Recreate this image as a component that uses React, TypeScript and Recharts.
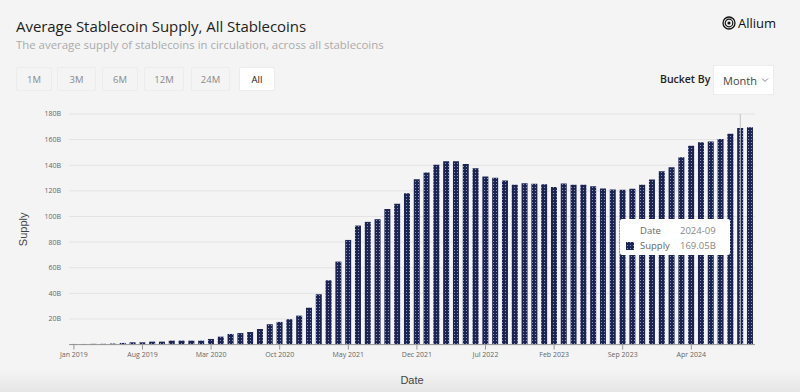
import {
  BarChart,
  Bar,
  XAxis,
  YAxis,
  CartesianGrid,
  Tooltip,
  ReferenceLine,
} from "recharts";

// monthly buckets, Jan 2019 .. Oct 2024
const months = [
  "2019-01", "2019-02", "2019-03", "2019-04", "2019-05", "2019-06",
  "2019-07", "2019-08", "2019-09", "2019-10", "2019-11", "2019-12",
  "2020-01", "2020-02", "2020-03", "2020-04", "2020-05", "2020-06",
  "2020-07", "2020-08", "2020-09", "2020-10", "2020-11", "2020-12",
  "2021-01", "2021-02", "2021-03", "2021-04", "2021-05", "2021-06",
  "2021-07", "2021-08", "2021-09", "2021-10", "2021-11", "2021-12",
  "2022-01", "2022-02", "2022-03", "2022-04", "2022-05", "2022-06",
  "2022-07", "2022-08", "2022-09", "2022-10", "2022-11", "2022-12",
  "2023-01", "2023-02", "2023-03", "2023-04", "2023-05", "2023-06",
  "2023-07", "2023-08", "2023-09", "2023-10", "2023-11", "2023-12",
  "2024-01", "2024-02", "2024-03", "2024-04", "2024-05", "2024-06",
  "2024-07", "2024-08", "2024-09", "2024-10",
];

// average supply, billions
const supply = [
  0.5, 0.5, 0.6, 0.6, 0.8, 1.3, 1.8, 1.8, 2.3, 2.3, 3.1, 3.1,
  3.1, 3.1, 4.4, 6.2, 8.3, 9.0, 9.8, 12.2, 15.9, 17.7, 19.8, 22.6,
  28.8, 39.3, 50.2, 64.8, 81.7, 92.9, 95.8, 97.9, 105.9, 110.0, 118.2, 129.1,
  134.3, 140.3, 143.2, 143.2, 140.9, 137.7, 131.2, 130.2, 128.1, 124.7, 126.0, 125.5,
  125.2, 123.1, 125.7, 124.7, 124.7, 123.7, 121.9, 121.0, 120.8, 121.6, 124.7, 128.8,
  135.4, 138.5, 146.3, 155.2, 158.0, 158.5, 160.4, 164.5, 169.05, 169.6,
];

const yTicks = [20, 40, 60, 80, 100, 120, 140, 160, 180];
const monthNames = ["Jan", "Feb", "Mar", "Apr", "May", "Jun", "Jul", "Aug", "Sep", "Oct", "Nov", "Dec"];
const ranges = ["1M", "3M", "6M", "12M", "24M", "All"];
const hoverMonth = "2024-09";

// range buttons: left edge and width
const btnLeft = [16, 57, 102, 144, 191, 239];
const btnWidth = [36, 39, 36, 40, 39, 36];

const NAVY = "#1c2452";
const UI_FONT = "'Open Sans', 'Noto Sans', sans-serif";
const AXIS_FONT = "'Liberation Sans', Arial, sans-serif";

const chartData = months.map((m, i) => ({ month: m, supply: supply[i] }));

const fmtMonth = (v: string) => `${monthNames[Number(v.slice(5)) - 1]} ${v.slice(0, 4)}`;

function HoverBox({ payload }: any) {
  const p = payload && payload[0];
  if (!p) return null;
  return (
    <div
      style={{
        background: "#fff",
        width: 110,
        height: 36,
        boxSizing: "border-box",
        padding: "4px 0 0 6px",
        fontFamily: UI_FONT,
        fontSize: 9.5,
        color: "#666",
        lineHeight: "15px",
        borderRadius: 2,
      }}
    >
      <div style={{ display: "flex" }}>
        <span style={{ width: 14 }} />
        <span style={{ width: 40 }}>Date</span>
        <span style={{ color: "#888" }}>{p.payload.month}</span>
      </div>
      <div style={{ display: "flex", alignItems: "center" }}>
        <svg width={14} height={10}>
          <rect x={0} y={1} width={8} height={8} fill="url(#dots)" />
        </svg>
        <span style={{ width: 40 }}>Supply</span>
        <span style={{ color: "#888" }}>{p.value.toFixed(2)}B</span>
      </div>
    </div>
  );
}

export default function App() {
  return (
    <div
      style={{
        position: "absolute",
        left: 0,
        top: 0,
        width: 800,
        height: 392,
        background: "#f4f4f4",
        overflow: "hidden",
      }}
    >
      {/* soft shade along the bottom edge */}
      <div
        style={{
          position: "absolute",
          left: 0,
          bottom: 0,
          width: 800,
          height: 22,
          background: "linear-gradient(#f4f4f400, #e6e6e6)",
        }}
      />
      <BarChart
        width={800}
        height={392}
        data={chartData}
        margin={{ top: 114, right: 45, bottom: 17.4, left: 10 }}
        barCategoryGap="18%"
      >
        <defs>
          <pattern id="dots" width={3} height={3} patternUnits="userSpaceOnUse">
            <rect width={3} height={3} fill={NAVY} />
            <rect x={1} y={1} width={1} height={1} fill="#8a96c8" />
          </pattern>
        </defs>
        <CartesianGrid vertical={false} stroke="#e3e3e3" />
        <XAxis
          dataKey="month"
          interval={6}
          tickFormatter={fmtMonth}
          stroke="#999"
          tickSize={5}
          tick={{ fontSize: 7, fill: "#666", fontFamily: UI_FONT }}
          label={{
            value: "Date",
            position: "bottom",
            offset: 2,
            style: { fontSize: 11, fill: "#444", fontFamily: AXIS_FONT },
          }}
        />
        <YAxis
          width={59}
          domain={[0, 180]}
          ticks={yTicks}
          tickFormatter={(v) => `${v}B`}
          axisLine={false}
          tickLine={false}
          tick={{ fontSize: 7, fill: "#666", fontFamily: UI_FONT }}
          label={{
            value: "Supply",
            angle: -90,
            position: "insideLeft",
            offset: 13,
            style: { fontSize: 11, fill: "#444", fontFamily: AXIS_FONT, textAnchor: "middle" },
          }}
        />
        <ReferenceLine x={hoverMonth} stroke="#c4c4c4" />
        <Bar dataKey="supply" fill="url(#dots)" isAnimationActive={false} />
        <Tooltip
          active
          defaultIndex={68}
          cursor={false}
          isAnimationActive={false}
          position={{ x: 620, y: 219 }}
          content={<HoverBox />}
          wrapperStyle={{ outline: "none" }}
        />
      </BarChart>

      {/* header */}
      <div
        style={{
          position: "absolute",
          left: 16,
          top: 16,
          fontFamily: UI_FONT,
          fontSize: 15,
          fontWeight: 500,
          color: "#1e1e1e",
          whiteSpace: "nowrap",
          letterSpacing: -0.05,
        }}
      >
        Average Stablecoin Supply, All Stablecoins
      </div>
      <div
        style={{
          position: "absolute",
          left: 16,
          top: 37,
          fontFamily: UI_FONT,
          fontSize: 11.4,
          color: "#ababab",
          whiteSpace: "nowrap",
        }}
      >
        The average supply of stablecoins in circulation, across all stablecoins
      </div>

      {ranges.map((r, i) => {
        const on = r === "All";
        return (
          <div
            key={r}
            style={{
              position: "absolute",
              left: btnLeft[i],
              top: 67,
              width: btnWidth[i],
              height: 24,
              boxSizing: "border-box",
              border: "1px solid #ececec",
              background: on ? "#fff" : "#f4f4f4",
              fontFamily: UI_FONT,
              fontSize: 9.5,
              color: on ? "#111" : "#8a8a8a",
              fontWeight: on ? 500 : 400,
              display: "flex",
              alignItems: "center",
              justifyContent: "center",
              borderRadius: 2,
            }}
          >
            {r}
          </div>
        );
      })}

      {/* brand */}
      <div
        style={{
          position: "absolute",
          left: 722,
          top: 14,
          display: "flex",
          alignItems: "center",
          gap: 2,
          fontFamily: UI_FONT,
          fontSize: 13,
          fontWeight: 500,
          color: "#111",
        }}
      >
        <svg width={14} height={14} viewBox="0 0 14 14">
          <circle cx={7} cy={7} r={6} fill="none" stroke="#111" strokeWidth={1.3} />
          <circle cx={7} cy={7} r={3.8} fill="none" stroke="#111" strokeWidth={1.2} />
          <circle cx={7} cy={7} r={1.6} fill="#111" />
        </svg>
        <span>Allium</span>
      </div>

      <div
        style={{
          position: "absolute",
          left: 660,
          top: 72,
          fontFamily: UI_FONT,
          fontSize: 10.5,
          fontWeight: 600,
          color: "#222",
        }}
      >
        Bucket By
      </div>
      <div
        style={{
          position: "absolute",
          left: 713,
          top: 65,
          width: 61,
          height: 30,
          boxSizing: "border-box",
          background: "#fff",
          border: "1px solid #ececec",
          display: "flex",
          alignItems: "center",
          paddingLeft: 9,
          gap: 4,
          fontFamily: UI_FONT,
          fontSize: 11,
          color: "#444",
        }}
      >
        Month
        <svg width={8} height={6}>
          <polyline points="1,1.5 4,4.5 7,1.5" fill="none" stroke="#777" strokeWidth={0.9} />
        </svg>
      </div>
    </div>
  );
}
